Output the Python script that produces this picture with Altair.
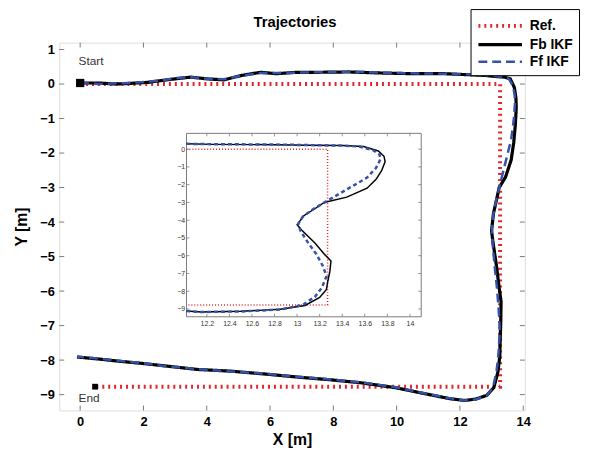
import altair as alt
import pandas as pd

# ---------------- data ----------------
series_names = ["Ref.", "Fb IKF", "Ff IKF"]
chart_title = "Trajectories"

ref_x = [0.0, 13.27, 13.27, 0.5]
ref_y = [0.0, 0.0, -8.77, -8.77]

fb_x = [0.00, 0.60, 1.10, 1.60, 2.15, 2.55, 3.00, 3.50, 4.00, 4.55, 5.10, 5.70, 6.20, 6.85,
        7.50, 8.50, 9.50, 10.50, 11.50, 12.25, 12.80, 13.10, 13.40, 13.59, 13.72, 13.77, 13.78,
        13.75, 13.70, 13.62, 13.44, 13.24, 13.17, 13.06, 13.00, 13.04, 13.16, 13.24, 13.30,
        13.29, 13.27, 13.26, 13.20, 13.07, 12.85, 12.50, 12.15, 11.70, 11.20, 10.50, 9.97,
        8.90, 7.90, 6.85, 5.80, 4.75, 3.70, 2.70, 2.00, 1.20, 0.60, -0.10]
fb_y = [0.03, 0.03, 0.00, 0.02, 0.05, 0.10, 0.15, 0.20, 0.15, 0.12, 0.25, 0.34, 0.30, 0.34,
        0.34, 0.35, 0.32, 0.30, 0.30, 0.27, 0.25, 0.22, 0.20, 0.15, -0.10, -0.40, -0.70,
        -1.20, -1.70, -2.20, -2.70, -3.00, -3.30, -3.75, -4.25, -4.55, -5.30, -5.90, -6.30,
        -6.90, -7.50, -7.90, -8.35, -8.80, -9.02, -9.13, -9.17, -9.12, -9.03, -8.90, -8.80,
        -8.66, -8.57, -8.49, -8.40, -8.32, -8.27, -8.17, -8.10, -8.03, -7.97, -7.91]

ff_x = [0.00, 0.60, 1.10, 1.60, 2.15, 2.55, 3.00, 3.50, 4.00, 4.55, 5.10, 5.70, 6.20, 6.85,
        7.50, 8.50, 9.50, 10.50, 11.50, 12.25, 12.80, 13.10, 13.40, 13.55, 13.67, 13.73, 13.74,
        13.70, 13.62, 13.50, 13.39, 13.27, 13.15, 13.05, 13.01, 13.03, 13.10, 13.17, 13.23,
        13.26, 13.22, 13.16, 13.05, 12.85, 12.50, 12.15, 11.70, 11.20, 10.50, 9.97,
        8.90, 7.90, 6.85, 5.80, 4.75, 3.70, 2.70, 2.00, 1.20, 0.60, -0.10]
ff_y = [0.03, 0.00, 0.02, 0.03, 0.07, 0.10, 0.17, 0.20, 0.15, 0.14, 0.24, 0.32, 0.32, 0.33,
        0.34, 0.36, 0.33, 0.31, 0.30, 0.28, 0.26, 0.23, 0.20, 0.15, -0.05, -0.30, -0.55,
        -1.05, -1.60, -2.05, -2.45, -2.90, -3.35, -3.80, -4.20, -4.60, -5.30, -5.90, -6.60,
        -7.15, -7.80, -8.30, -8.78, -9.03, -9.14, -9.17, -9.11, -9.02, -8.89, -8.79,
        -8.65, -8.56, -8.48, -8.39, -8.33, -8.26, -8.18, -8.09, -8.02, -7.96, -7.90]

x_ticks = [0, 2, 4, 6, 8, 10, 12, 14]
y_ticks = [1, 0, -1, -2, -3, -4, -5, -6, -7, -8, -9]
inset_x_ticks = [12.2, 12.4, 12.6, 12.8, 13.0, 13.2, 13.4, 13.6, 13.8, 14.0]
inset_y_ticks = [0, -1, -2, -3, -4, -5, -6, -7, -8, -9]

marker_names = ["Start", "End"]
marker_x = [0.0, 0.47]
marker_y = [0.03, -8.77]
label_x = [-0.05, -0.05]
label_y = [0.66, -9.1]

# ---------------- tables ----------------
rows = []
for name, xs_, ys_ in [("Ref.", ref_x, ref_y), ("Fb IKF", fb_x, fb_y), ("Ff IKF", ff_x, ff_y)]:
    for i, (a, b) in enumerate(zip(xs_, ys_)):
        rows.append({"series": name, "idx": i, "x": a, "y": b})
traj = pd.DataFrame(rows)
markers = pd.DataFrame({"name": marker_names, "x": marker_x, "y": marker_y,
                        "lx": label_x, "ly": label_y})
xt = pd.DataFrame({"x": x_ticks})
yt = pd.DataFrame({"y": y_ticks})
ixt = pd.DataFrame({"x": inset_x_ticks})
iyt = pd.DataFrame({"y": inset_y_ticks})

# ---------------- layout constants ----------------
W, H = 472, 373
XD = [-0.66, 14.05]
YD = [-9.46, 1.2]
IX0, IX1, IY0, IY1 = 129, 367, 92, 278
IXD = [12.02, 14.1]
IYD = [-9.44, 0.89]
FONT = "Liberation Sans"
FRAME = "#7a7a7a"
RED, BLACK, BLUE = "#e3262c", "#000000", "#3352a8"

xs = alt.Scale(domain=XD, nice=False, zero=False)
ys = alt.Scale(domain=YD, nice=False, zero=False)
ixs = alt.Scale(domain=IXD, range=[IX0, IX1], nice=False, zero=False, clamp=True)
iys = alt.Scale(domain=IYD, range=[IY1, IY0], nice=False, zero=False, clamp=True)

legend = alt.Legend(orient="none", legendX=417, legendY=-34, title=None,
                    symbolType="M-1,0H3.9", symbolSize=324, labelFont=FONT,
                    labelFontWeight="bold", labelFontSize=14, labelColor="black",
                    strokeColor="black", fillColor="white", padding=6,
                    rowPadding=0, labelOffset=32)

xaxis = alt.Axis(values=x_ticks, title="X [m]", domain=False, ticks=False, grid=False,
                 labelFont=FONT, labelFontWeight="bold", labelFontSize=13, labelColor="black",
                 labelPadding=5, labelOverlap=False, titleFont=FONT, titleFontWeight="bold",
                 titleFontSize=16, titleColor="black", titlePadding=3)
yaxis = alt.Axis(values=y_ticks, title="Y [m]", domain=False, ticks=False, grid=False,
                 labelFont=FONT, labelFontWeight="bold", labelFontSize=13, labelColor="black",
                 labelPadding=5, labelOverlap=False, titleFont=FONT, titleFontWeight="bold",
                 titleFontSize=16, titleColor="black", titlePadding=10)

lines = alt.Chart(traj).mark_line(strokeCap="butt").encode(
    x=alt.X("x:Q", scale=xs, axis=xaxis),
    y=alt.Y("y:Q", scale=ys, axis=yaxis),
    color=alt.Color("series:N", scale=alt.Scale(domain=series_names, range=[RED, BLACK, BLUE]),
                    legend=legend),
    strokeDash=alt.StrokeDash("series:N",
                              scale=alt.Scale(domain=series_names, range=[[2, 4], [1, 0], [9, 5]]),
                              legend=legend),
    strokeWidth=alt.StrokeWidth("series:N",
                                scale=alt.Scale(domain=series_names, range=[4, 2.5, 4.5]),
                                legend=legend),
    order="idx:Q",
)

start_pt = alt.Chart(markers).transform_filter(alt.datum.name == "Start").mark_square(
    size=70, color="black", opacity=1).encode(x=alt.X("x:Q", scale=xs, axis=xaxis),
                                               y=alt.Y("y:Q", scale=ys, axis=yaxis))
end_pt = alt.Chart(markers).transform_filter(alt.datum.name == "End").mark_square(
    size=34, color="black", opacity=1).encode(x=alt.X("x:Q", scale=xs, axis=xaxis),
                                               y=alt.Y("y:Q", scale=ys, axis=yaxis))
mlabels = alt.Chart(markers).mark_text(align="left", baseline="middle", font=FONT,
                                       fontSize=12, color="#333333").encode(
    x=alt.X("lx:Q", scale=xs, axis=xaxis), y=alt.Y("ly:Q", scale=ys, axis=yaxis), text="name:N")

title_txt = alt.Chart(pd.DataFrame({"t": [chart_title]})).mark_text(
    font=FONT, fontSize=15, fontWeight="bold", color="black", align="center",
    baseline="middle").encode(x=alt.value(W / 2 + 3), y=alt.value(-21), text="t:N")

tk = dict(color=FRAME, strokeWidth=1)
mt_b = alt.Chart(xt).mark_rule(**tk).encode(x=alt.X("x:Q", scale=xs, axis=xaxis),
                                            y=alt.value(H), y2=alt.value(H - 5))
mt_t = alt.Chart(xt).mark_rule(**tk).encode(x=alt.X("x:Q", scale=xs, axis=xaxis),
                                            y=alt.value(0), y2=alt.value(5))
mt_l = alt.Chart(yt).mark_rule(**tk).encode(y=alt.Y("y:Q", scale=ys, axis=yaxis),
                                            x=alt.value(0), x2=alt.value(5))
mt_r = alt.Chart(yt).mark_rule(**tk).encode(y=alt.Y("y:Q", scale=ys, axis=yaxis),
                                            x=alt.value(W), x2=alt.value(W - 5))

main = alt.layer(lines, mt_b, mt_t, mt_l, mt_r, start_pt, end_pt, mlabels, title_txt)

# ---------------- inset ----------------
bg = alt.Chart(pd.DataFrame({"a": [0]})).mark_rect(fill="white", stroke=FRAME, strokeWidth=1).encode(
    x=alt.value(IX0), x2=alt.value(IX1), y=alt.value(IY0), y2=alt.value(IY1))

ixaxis = alt.Axis(orient="bottom", offset=-(H - IY1), values=inset_x_ticks, format="~g",
                  title=None, domain=False, ticks=False, grid=False, labelFont=FONT,
                  labelFontSize=7, labelColor="#333333", labelPadding=3, labelOverlap=False)
iyaxis = alt.Axis(orient="left", offset=-IX0, values=inset_y_ticks, format="~g",
                  title=None, domain=False, ticks=False, grid=False, labelFont=FONT,
                  labelFontSize=7, labelColor="#333333", labelPadding=2, labelOverlap=False)

inset_src = traj[traj["x"] >= 11.5]
i_ref = alt.Chart(traj[traj["series"] == "Ref."]).mark_line(
    color=RED, strokeDash=[1, 2], strokeWidth=1.5).encode(
    x=alt.X("x:Q", scale=ixs, axis=ixaxis), y=alt.Y("y:Q", scale=iys, axis=iyaxis), order="idx:Q")
i_fb = alt.Chart(inset_src[inset_src["series"] == "Fb IKF"]).mark_line(
    color=BLACK, strokeWidth=1.5).encode(
    x=alt.X("x:Q", scale=ixs, axis=ixaxis), y=alt.Y("y:Q", scale=iys, axis=iyaxis), order="idx:Q")
i_ff = alt.Chart(inset_src[inset_src["series"] == "Ff IKF"]).mark_line(
    color=BLUE, strokeDash=[4, 3], strokeWidth=2.5).encode(
    x=alt.X("x:Q", scale=ixs, axis=ixaxis), y=alt.Y("y:Q", scale=iys, axis=iyaxis), order="idx:Q")

itk = dict(color=FRAME, strokeWidth=0.8)
it_b = alt.Chart(ixt).mark_rule(**itk).encode(x=alt.X("x:Q", scale=ixs, axis=ixaxis),
                                              y=alt.value(IY1), y2=alt.value(IY1 - 3))
it_t = alt.Chart(ixt).mark_rule(**itk).encode(x=alt.X("x:Q", scale=ixs, axis=ixaxis),
                                              y=alt.value(IY0), y2=alt.value(IY0 + 3))
it_l = alt.Chart(iyt).mark_rule(**itk).encode(y=alt.Y("y:Q", scale=iys, axis=iyaxis),
                                              x=alt.value(IX0), x2=alt.value(IX0 + 3))
it_r = alt.Chart(iyt).mark_rule(**itk).encode(y=alt.Y("y:Q", scale=iys, axis=iyaxis),
                                              x=alt.value(IX1), x2=alt.value(IX1 - 3))

inset = alt.layer(bg, i_ref, i_fb, i_ff, it_b, it_t, it_l, it_r)

chart = alt.layer(main, inset).resolve_scale(x="independent", y="independent").properties(
    width=W, height=H,
    padding={"left": 52, "top": 32, "right": 57, "bottom": 40},
    autosize="none",
).configure_view(stroke=FRAME, strokeWidth=1).configure(background="white")

chart.save("out.html", embed_options={"renderer": "svg", "actions": False})
